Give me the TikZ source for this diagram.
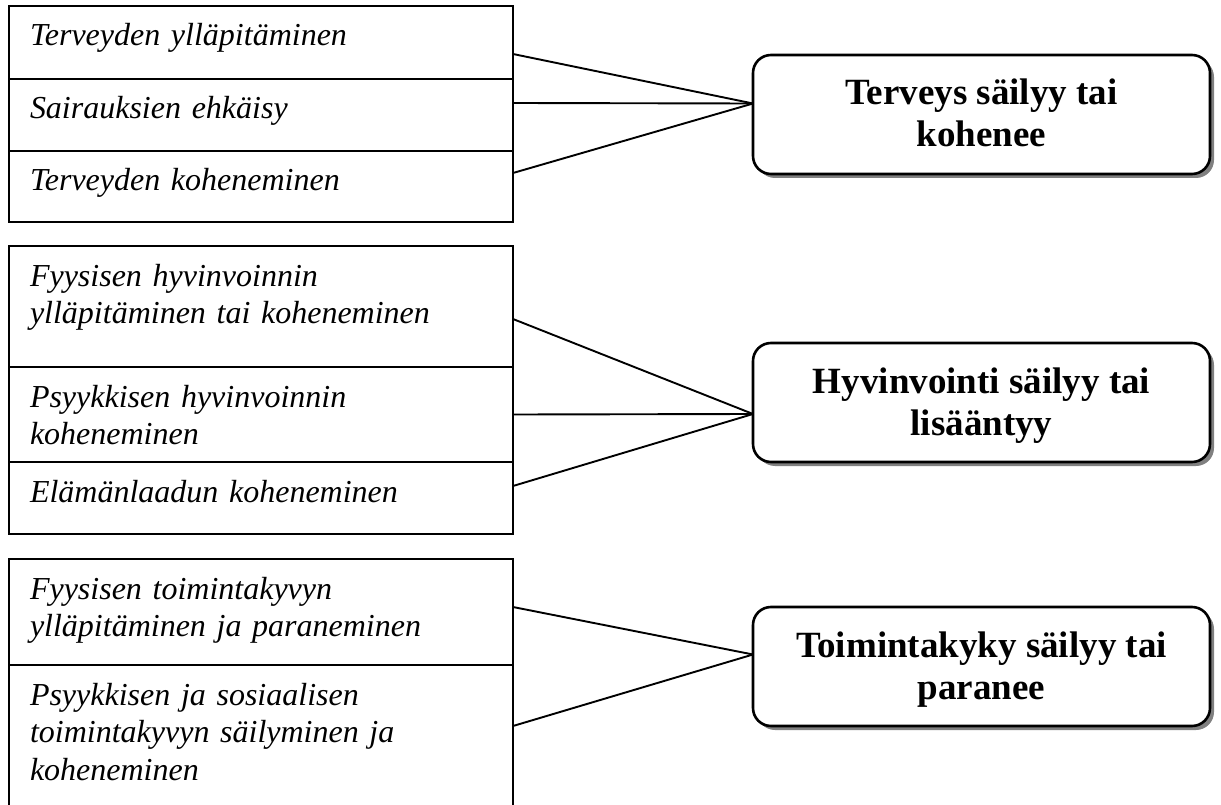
\documentclass[tikz,border=0pt]{standalone}
\usepackage{fontspec}
\setmainfont{Liberation Serif}
\usetikzlibrary{shadows}
\begin{document}
\begin{tikzpicture}[x=1pt,y=-1pt,
  cell/.style={draw, line width=1.9pt, anchor=north west, inner ysep=0pt, inner xsep=21pt,
    outer sep=0pt, text width=462pt, align=left, text height=40pt, text depth=#1,
    font=\fontsize{32}{37.5}\selectfont\itshape},
  opencell/.style={cell=#1, draw=none},
  res/.style={draw, line width=2.6pt, rounded corners=18pt, minimum width=457pt,
    minimum height=119pt, fill=white, anchor=north west, inner sep=0pt, outer sep=0pt,
    align=center, text height=72pt, text depth=7pt,
    font=\fontsize{37}{42}\selectfont\bfseries,
    drop shadow={shadow xshift=4pt, shadow yshift=-4pt, fill=black!50, opacity=1}},
  conn/.style={line width=1.9pt}
]
\useasboundingbox (0,0) rectangle (1221,805);
% group 1
\node[cell=33pt] (c11) at (9,6) {Terveyden ylläpitäminen};
\node[cell=32pt] (c12) at (9,79) {Sairauksien ehkäisy};
\node[cell=31pt] (c13) at (9,151) {Terveyden koheneminen};
% group 2
\node[cell=81pt] (c21) at (9,246) {Fyysisen hyvinvoinnin\\ylläpitäminen tai koheneminen};
\node[cell=55pt] (c22) at (9,367) {Psyykkisen hyvinvoinnin\\koheneminen};
\node[cell=32pt] (c23) at (9,462) {Elämänlaadun koheneminen};
% group 3
\node[cell=66pt] (c31) at (9,559) {Fyysisen toimintakyvyn\\ylläpitäminen ja paraneminen};
\node[opencell=100pt] (c32) at (9,665) {Psyykkisen ja sosiaalisen\\toimintakyvyn säilyminen ja\\koheneminen};
\draw[line width=1.9pt] (c32.south west) -- (c32.north west) -- (c32.north east) -- (c32.south east);
% result boxes
\node[res] (t1) at (753,55) {Terveys säilyy tai\\kohenee};
\node[res] (t2) at (753,343) {Hyvinvointi säilyy tai\\lisääntyy};
\node[res] (t3) at (753,607) {Toimintakyky säilyy tai\\paranee};
% connectors
\draw[conn] ([yshift=-11.5pt]c11.east) -- ([yshift=11pt]t1.west);
\draw[conn] ([yshift=12pt]c12.east) -- ([yshift=11pt]t1.west);
\draw[conn] ([yshift=13.5pt]c13.east) -- ([yshift=11pt]t1.west);
\draw[conn] ([yshift=-12.5pt]c21.east) -- ([yshift=-11.5pt]t2.west);
\draw[conn] (c22.east) -- ([yshift=-11.5pt]t2.west);
\draw[conn] ([yshift=12pt]c23.east) -- ([yshift=-11.5pt]t2.west);
\draw[conn] ([yshift=5pt]c31.east) -- ([yshift=12pt]t3.west);
\draw[conn] ([yshift=9pt]c32.east) -- ([yshift=12pt]t3.west);
\end{tikzpicture}
\end{document}
